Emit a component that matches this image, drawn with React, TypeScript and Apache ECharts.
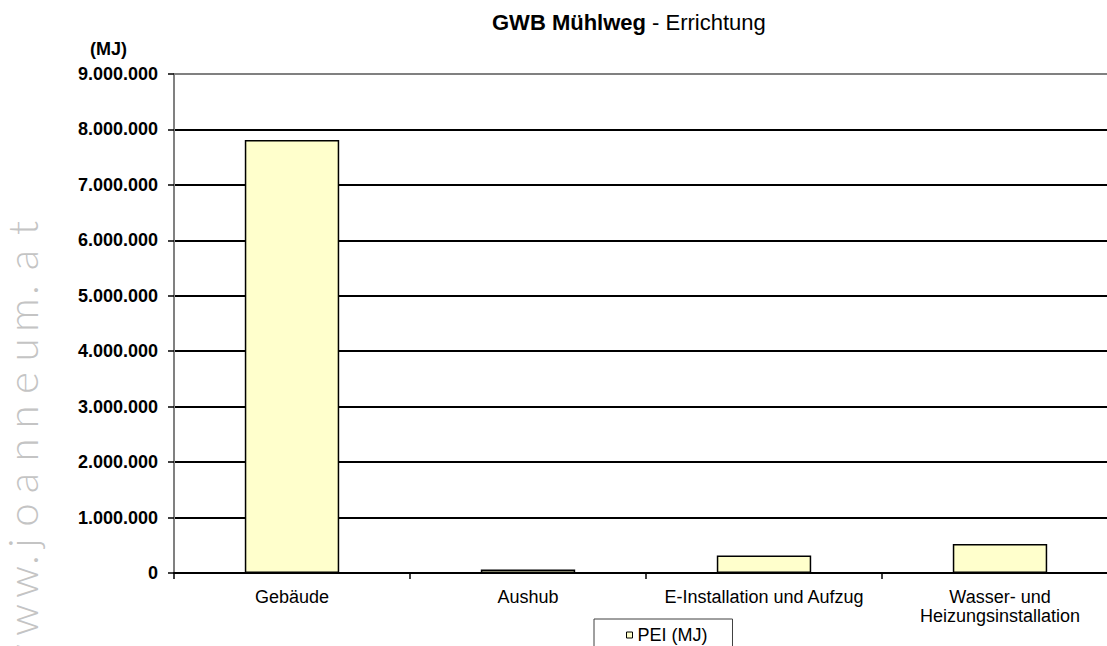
import React, { useEffect, useRef } from "react";
import * as echarts from "echarts";

const categories = ["Gebäude", "Aushub", "E-Installation und Aufzug", "Wasser- und\nHeizungsinstallation"];
const peiValues = [7810000, 65000, 315000, 525000];
const seriesName = "PEI (MJ)";
const yTicks = { min: 0, max: 9000000, interval: 1000000 };
const watermarkChars = ["w", "w", "w", ".", "j", "o", "a", "n", "n", "e", "u", "m", ".", "a", "t"];
const watermarkCenters = [660, 620, 582, 560, 543, 515, 483, 450, 417, 383, 350, 315, 290, 260, 228];

const FONT = "'Liberation Sans', Arial, Helvetica, sans-serif";

function fmt(v: number): string {
  return String(Math.round(v)).replace(/\B(?=(\d{3})+(?!\d))/g, ".");
}

export default function App() {
  const ref = useRef<HTMLDivElement>(null);
  useEffect(() => {
    if (!ref.current) return;
    const chart = echarts.init(ref.current, null, { renderer: "svg" });
    const splitColors = ["#000", "#000", "#000", "#000", "#000", "#000", "#000", "#000", "#000", "#808080"];
    chart.setOption({
      animation: false,
      backgroundColor: "#fff",
      textStyle: { fontFamily: FONT },
      title: {
        text: "{b|GWB Mühlweg}{n| - Errichtung}",
        left: 492,
        top: 11,
        padding: 0,
        textStyle: {
          rich: {
            b: { fontFamily: FONT, fontWeight: "bold", fontSize: 22, color: "#000" },
            n: { fontFamily: FONT, fontWeight: "normal", fontSize: 22, color: "#000" },
          },
        },
      },
      legend: {
        data: [seriesName],
        left: 594,
        top: 619,
        orient: "horizontal",
        padding: [7, 25, 16, 32],
        borderColor: "#404040",
        borderWidth: 1,
        itemWidth: 6,
        itemHeight: 6,
        icon: "rect",
        selectedMode: false,
        textStyle: { fontFamily: FONT, fontSize: 18, color: "#000" },
        itemStyle: { color: "#FFFFCC", borderColor: "#000", borderWidth: 1 },
      },
      grid: {
        left: 174,
        right: -11,
        top: 74,
        bottom: 73,
        containLabel: false,
        outerBoundsMode: "none",
      },
      xAxis: {
        type: "category",
        data: categories,
        boundaryGap: true,
        axisLine: { show: true, lineStyle: { color: "#000", width: 2 } },
        axisTick: { show: true, length: 6, interval: 0, alignWithLabel: false, lineStyle: { color: "#000", width: 1.5 } },
        axisLabel: {
          interval: 0,
          margin: 14,
          fontFamily: FONT,
          fontSize: 18,
          lineHeight: 19,
          color: "#000",
        },
        splitLine: { show: false },
      },
      yAxis: {
        type: "value",
        min: yTicks.min,
        max: yTicks.max,
        interval: yTicks.interval,
        axisLine: { show: true, lineStyle: { color: "#808080", width: 2 } },
        axisTick: { show: true, length: 6, lineStyle: { color: "#000", width: 1.5 } },
        axisLabel: {
          margin: 16,
          fontFamily: FONT,
          fontSize: 18,
          fontWeight: "bold",
          color: "#000",
          formatter: (v: number) => fmt(v),
        },
        splitLine: { show: true, lineStyle: { color: splitColors, width: 2 } },
      },
      graphic: [
        {
          type: "text",
          left: 90,
          top: 40,
          style: { text: "(MJ)", font: `bold 18px ${FONT}`, fill: "#000" },
        },
        {
          type: "group",
          x: 43,
          y: 700,
          rotation: Math.PI / 2,
          children: watermarkChars.map((c, i) => ({
            type: "text",
            x: 700 - watermarkCenters[i],
            y: 0,
            style: {
              text: c,
              font: `300 42px Lato, 'DejaVu Sans', sans-serif`,
              fill: "#c4c4c4",
              align: "center",
              verticalAlign: "bottom",
            },
          })),
        },
      ],
      series: [
        {
          name: seriesName,
          type: "bar",
          data: peiValues,
          barWidth: "40%",
          itemStyle: { color: "#FFFFCC", borderColor: "#000", borderWidth: 1.5 },
        },
      ],
    });
    return () => chart.dispose();
  }, []);
  return (
    <div
      ref={ref}
      style={{ position: "absolute", left: 0, top: 0, width: 1107, height: 646, overflow: "hidden" }}
    />
  );
}
